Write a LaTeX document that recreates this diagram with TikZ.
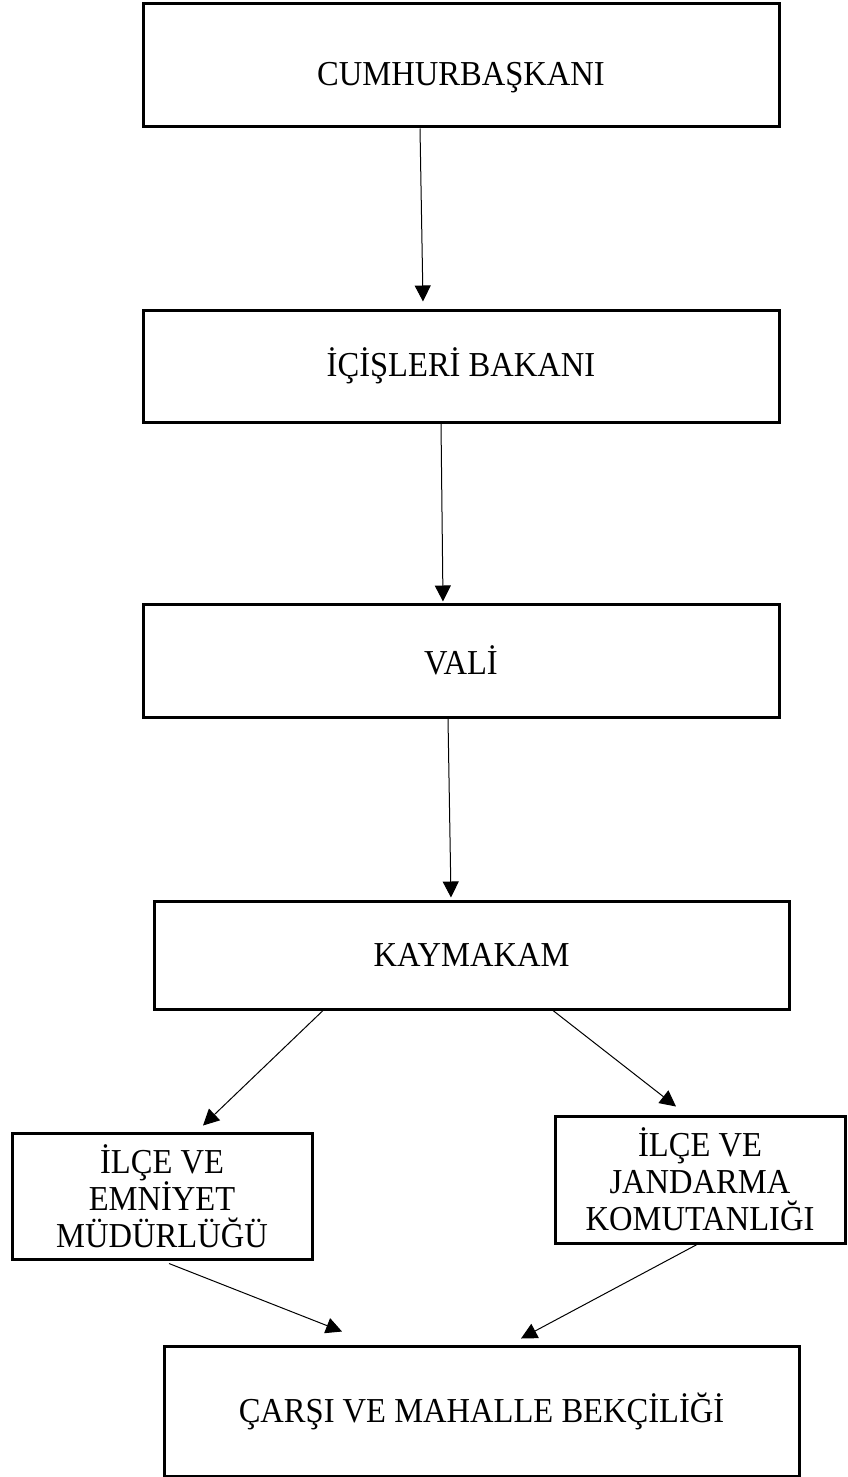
\documentclass[tikz,border=0pt]{standalone}
\usepackage{fontspec}
\setmainfont[FakeStretch=0.93]{Liberation Serif}
\usetikzlibrary{arrows.meta}
\begin{document}
\begin{tikzpicture}[x=0.5pt,y=-0.5pt,
		kutu/.style={draw,line width=1.5pt,align=center,inner sep=0pt,font=\fontsize{17.5}{18.5}\selectfont},
		ok/.style={-{Triangle[length=8pt,width=8pt]},line width=0.5pt}]
		\useasboundingbox (0,0) rectangle (847,1477);
		
		\node[kutu,minimum width=318pt,minimum height=61.5pt,text height=23.5pt,text depth=3pt] (cumhur) at (461,65.5) {CUMHURBAŞKANI};
		\node[kutu,minimum width=318pt,minimum height=56pt] (bakan) at (461,366) {İÇİŞLERİ BAKANI};
		\node[kutu,minimum width=318pt,minimum height=56.5pt] (vali) at (461,660.5) {VALİ};
		\node[kutu,minimum width=317.5pt,minimum height=54pt] (kaymakam) at (471.5,955) {KAYMAKAM};
		\node[kutu,minimum width=150pt,minimum height=63pt] (emniyet) at (162,1196) {İLÇE VE\\EMNİYET\\MÜDÜRLÜĞÜ};
		\node[kutu,minimum width=145pt,minimum height=63.5pt] (jandarma) at (700,1179.5) {İLÇE VE\\JANDARMA\\KOMUTANLIĞI};
		\node[kutu,minimum width=317.5pt,minimum height=65pt] (bekci) at (481.5,1411) {ÇARŞI VE MAHALLE BEKÇİLİĞİ};
		
		% dikey oklar
		\draw[ok] ([xshift=-20.5pt]cumhur.south) -- ([xshift=-19pt,yshift=3.5pt]bakan.north);
		\draw[ok] ([xshift=-10pt]bakan.south) -- ([xshift=-9pt,yshift=0.5pt]vali.north);
		\draw[ok] ([xshift=-6.5pt]vali.south) -- ([xshift=-10.25pt,yshift=1pt]kaymakam.north);
		
		% capraz oklar
		\draw[ok] ([xshift=-74.25pt]kaymakam.south) -- ([xshift=20.5pt,yshift=3pt]emniyet.north);
		\draw[ok] ([xshift=40.75pt]kaymakam.south) -- ([xshift=-12pt,yshift=4pt]jandarma.north);
		\draw[ok] ([xshift=3.5pt,yshift=-1.5pt]emniyet.south) -- ([xshift=-69.75pt,yshift=6.5pt]bekci.north);
		\draw[ok] ([xshift=-1.5pt]jandarma.south) -- ([xshift=19.75pt,yshift=3pt]bekci.north);
\end{tikzpicture}
\end{document}
